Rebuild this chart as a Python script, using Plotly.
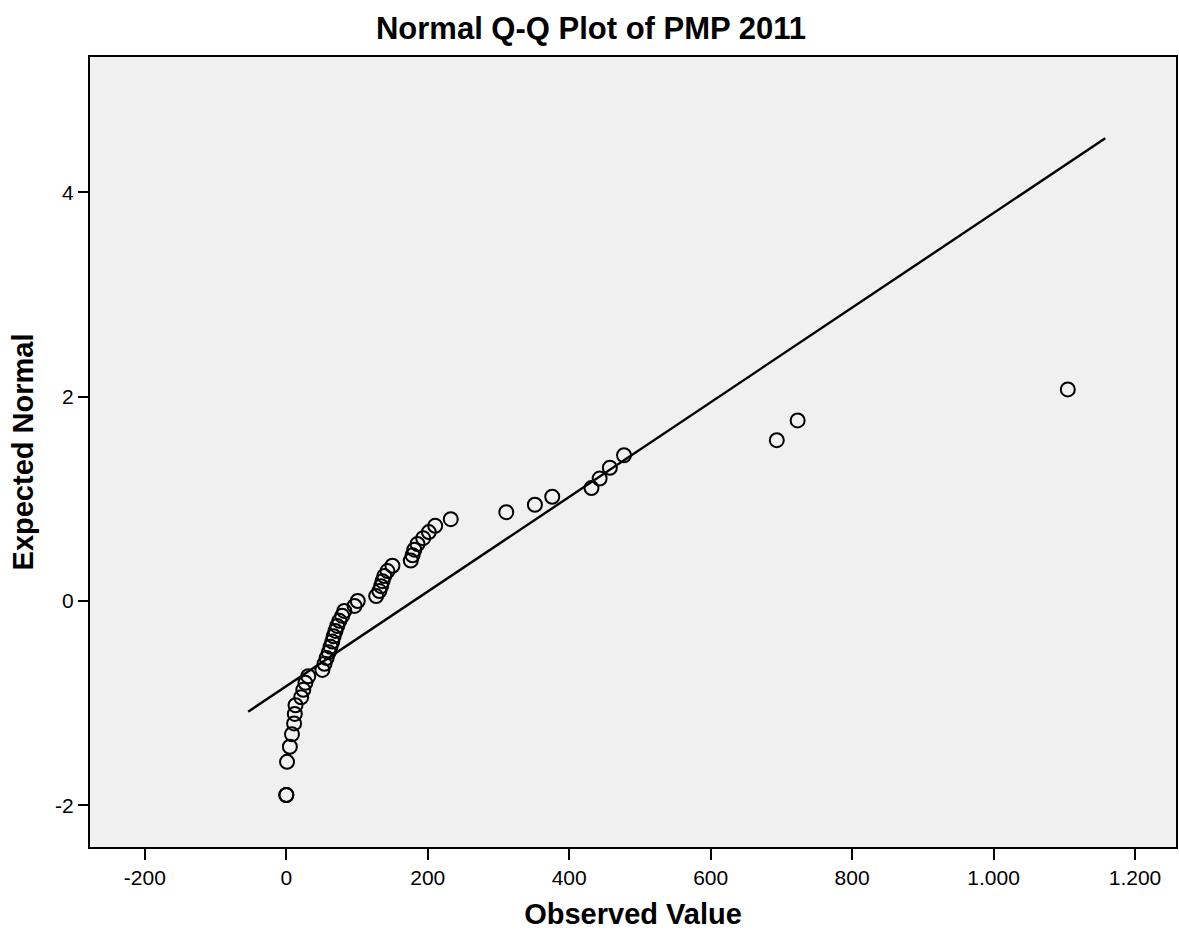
import plotly.graph_objects as go

observed = [0, 0, 1, 5, 8, 11, 12, 13, 21, 24, 27, 31, 51, 54, 57, 60, 62.5, 65, 67,
            69.5, 72, 75, 79, 82, 96.5, 101, 127, 131.5, 134, 136, 138.5, 143, 150,
            176, 178.5, 181, 185.5, 193.5, 201.5, 210.5, 232.5, 311, 351.5, 376,
            431.5, 443, 457.5, 477.5, 693.5, 723, 1105]
expected = [-1.898, -1.898, -1.574, -1.426, -1.304, -1.198, -1.105, -1.020, -0.942,
            -0.869, -0.801, -0.736, -0.674, -0.615, -0.558, -0.502, -0.448, -0.396,
            -0.345, -0.293, -0.244, -0.194, -0.145, -0.097, -0.048, 0.0, 0.048,
            0.097, 0.145, 0.194, 0.244, 0.293, 0.345, 0.396, 0.448, 0.502, 0.558,
            0.615, 0.674, 0.736, 0.801, 0.869, 0.942, 1.020, 1.105, 1.198, 1.304,
            1.426, 1.574, 1.767, 2.070]

# Reference line (normal with estimated mean / sd) and its x extent
line_mean = 180
line_sd = 216
line_x = [-54, 1158]
line_y = [(v - line_mean) / line_sd for v in line_x]

x_tickvals = [-200, 0, 200, 400, 600, 800, 1000, 1200]
x_ticktext = ["-200", "0", "200", "400", "600", "800", "1.000", "1.200"]
y_tickvals = [-2, 0, 2, 4]
y_ticktext = ["-2", "0", "2", "4"]

FONT = "Liberation Sans, Arial, sans-serif"

fig = go.Figure()
fig.add_trace(go.Scatter(
    x=line_x, y=line_y, mode="lines",
    line=dict(color="black", width=2.4), hoverinfo="skip", showlegend=False))
fig.add_trace(go.Scatter(
    x=observed, y=expected, mode="markers",
    marker=dict(symbol="circle-open", size=14, color="black",
                line=dict(color="black", width=2)),
    showlegend=False))

fig.update_layout(
    width=1179, height=933,
    margin=dict(l=90, r=1, t=57, b=86),
    paper_bgcolor="white",
    plot_bgcolor="#F0F0F0",
    font=dict(family=FONT, color="black"),
    title=dict(text="<b>Normal Q-Q Plot of PMP 2011</b>",
               x=591 / 1179, xref="container", xanchor="center",
               y=1 - 28 / 933, yref="container", yanchor="middle",
               font=dict(family=FONT, size=31, color="black")),
)
fig.update_xaxes(
    range=[-277.6, 1258], tickmode="array", tickvals=x_tickvals, ticktext=x_ticktext,
    showgrid=False, zeroline=False, showline=True, linecolor="black", linewidth=2,
    mirror=True, ticks="outside", ticklen=11, tickwidth=2, tickcolor="black",
    tickfont=dict(family=FONT, size=21, color="black"),
    title=dict(text="<b>Observed Value</b>", standoff=15,
               font=dict(family=FONT, size=29, color="black")),
)
fig.update_yaxes(
    range=[-2.407, 5.323], tickmode="array", tickvals=y_tickvals, ticktext=y_ticktext,
    showgrid=False, zeroline=False, showline=True, linecolor="black", linewidth=2,
    mirror=True, ticks="outside", ticklen=10, tickwidth=2, tickcolor="black",
    tickfont=dict(family=FONT, size=21, color="black"),
    title=dict(text="<b>Expected Normal</b>", standoff=13,
               font=dict(family=FONT, size=29, color="black")),
)

# Remove the default 8px page margin so the figure fills the window exactly.
fig.write_html("out.html",
               config={"displayModeBar": False},
               post_script="document.body.style.margin='0';"
                           "document.documentElement.style.overflow='hidden';")
